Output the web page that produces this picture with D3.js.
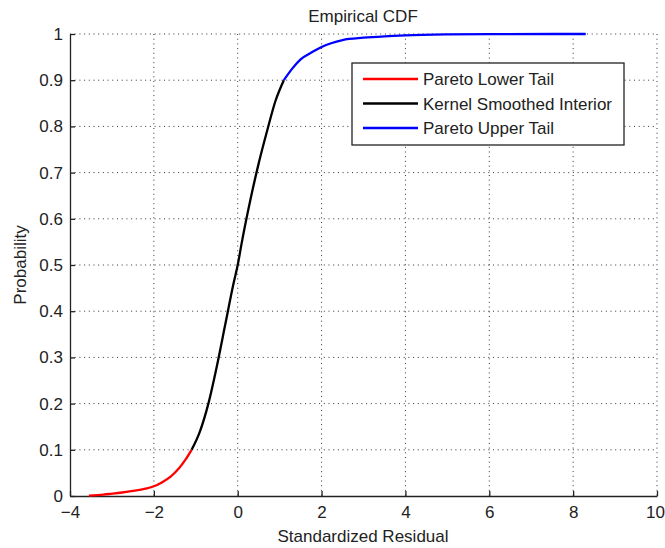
<!DOCTYPE html>
<html>
<head>
<meta charset="utf-8">
<script src="https://cdn.jsdelivr.net/npm/d3@7"></script>
<style>
  body { margin: 0; background: #fff; }
  text { font-family: "Liberation Sans", Arial, sans-serif; fill: #222; }
</style>
</head>
<body>
<svg id="chart"></svg>
<script>
// data
var lowerTail = [[-3.55,0.001],[-3.2,0.003],[-3.0,0.005],[-2.8,0.007],[-2.5,0.011],[-2.2,0.016],
    [-2.0,0.021],[-1.8,0.03],[-1.6,0.042],[-1.4,0.06],[-1.25,0.078],[-1.1,0.1]];
var interior = [[-1.1,0.1],[-0.9,0.14],[-0.7,0.2],[-0.5,0.28],[-0.3,0.37],[-0.1,0.46],[0,0.5],
    [0.1,0.55],[0.3,0.64],[0.5,0.72],[0.7,0.79],[0.9,0.855],[1.1,0.9]];
var upperTail = [[1.1,0.9],[1.3,0.925],[1.5,0.945],[1.8,0.962],[2.0,0.972],[2.5,0.987],[3.0,0.992],
    [3.5,0.995],[4,0.997],[5,0.999],[6,0.9997],[8.3,1.0]];
var xTicks = [-4, -2, 0, 2, 4, 6, 8, 10];
var yTicks = [0, 0.1, 0.2, 0.3, 0.4, 0.5, 0.6, 0.7, 0.8, 0.9, 1];
var seriesNames = ["Pareto Lower Tail", "Kernel Smoothed Interior", "Pareto Upper Tail"];
var seriesColors = ["#ff0000", "#000000", "#0000ff"];

var margin = {top: 34, right: 8, bottom: 52, left: 70},
    width = 665 - margin.left - margin.right,
    height = 548 - margin.top - margin.bottom;

var fs = 17;

var svg = d3.select("#chart").attr("width", 665).attr("height", 548)
    .append("g")
    .attr("transform", "translate(" + margin.left + "," + margin.top + ")");

var x = d3.scaleLinear().domain([-4, 10]).range([0, width]);
var y = d3.scaleLinear().domain([0, 1]).range([height, 0]);

// grid
svg.append("g").selectAll("line").data(xTicks.slice(1)).enter().append("line")
    .attr("x1", function(d) { return x(d); }).attr("x2", function(d) { return x(d); })
    .attr("y1", 0).attr("y2", height)
    .attr("stroke", "#333").attr("stroke-width", 1).attr("stroke-dasharray", "1,3.7");
svg.append("g").selectAll("line").data(yTicks.slice(1)).enter().append("line")
    .attr("y1", function(d) { return y(d); }).attr("y2", function(d) { return y(d); })
    .attr("x1", 0).attr("x2", width)
    .attr("stroke", "#333").attr("stroke-width", 1).attr("stroke-dasharray", "1,3.7");

// axes
var xAxis = svg.append("g")
    .attr("transform", "translate(0," + height + ")")
    .call(d3.axisBottom(x).tickValues(xTicks).tickSizeInner(-5).tickSizeOuter(0).tickPadding(10));
var yAxis = svg.append("g")
    .call(d3.axisLeft(y).tickValues(yTicks).tickFormat(d3.format("")).tickSizeInner(-5).tickSizeOuter(0).tickPadding(7));
[xAxis, yAxis].forEach(function(a) {
    a.selectAll("path").attr("stroke", "#222").attr("stroke-width", 1.3);
    a.selectAll("line").attr("stroke", "#222").attr("stroke-width", 1.3);
    a.selectAll("text").attr("font-size", fs).attr("fill", "#222")
        .style("font-family", "'Liberation Sans', Arial, sans-serif");
});
// last x label sits on the window edge
xAxis.selectAll(".tick text").filter(function(d) { return d === 10; }).attr("dx", -2);

var line = d3.line()
    .x(function(d) { return x(d[0]); })
    .y(function(d) { return y(d[1]); })
    .curve(d3.curveMonotoneX);

[lowerTail, interior, upperTail].forEach(function(s, i) {
    svg.append("path").datum(s)
        .attr("d", line)
        .attr("fill", "none")
        .attr("stroke", seriesColors[i])
        .attr("stroke-width", 2.3);
});

// title and labels
svg.append("text").attr("x", 363 - margin.left).attr("y", -12)
    .attr("text-anchor", "middle").attr("font-size", fs).text("Empirical CDF");
svg.append("text").attr("x", 363 - margin.left).attr("y", height + 46)
    .attr("text-anchor", "middle").attr("font-size", fs).text("Standardized Residual");
svg.append("text").attr("transform", "rotate(-90)")
    .attr("x", -height / 2).attr("y", -44)
    .attr("text-anchor", "middle").attr("font-size", fs).text("Probability");

// legend
var lg = svg.append("g").attr("transform", "translate(" + (352 - margin.left) + "," + (63 - margin.top) + ")");
lg.append("rect").attr("width", 272).attr("height", 82)
    .attr("fill", "#fff").attr("stroke", "#222").attr("stroke-width", 1.3);
seriesNames.forEach(function(name, i) {
    var yy = 16 + i * 24.5;
    lg.append("line").attr("x1", 11).attr("x2", 66).attr("y1", yy).attr("y2", yy)
        .attr("stroke", seriesColors[i]).attr("stroke-width", 2.3);
    lg.append("text").attr("x", 71).attr("y", yy + 6).attr("font-size", fs).text(name);
});
</script>
</body>
</html>
